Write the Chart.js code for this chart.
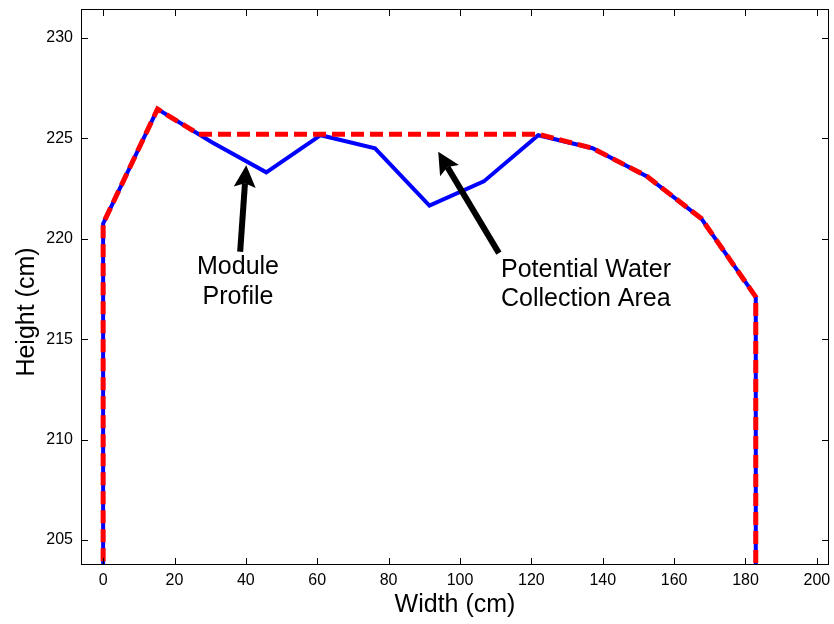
<!DOCTYPE html>
<html>
<head>
  <title>Module Profile</title>
  <script src="https://cdn.jsdelivr.net/npm/chart.js"></script>
  <style>
    body {
      margin: 0;
      background: #fff;
    }
  </style>
</head>
<body>

  <canvas id="profileChart" width="834" height="624"></canvas>

  <script>
    // positions along the module (cm), one every 6 inches
    const widths = [0, 15.24, 30.48, 45.72, 60.96, 76.2, 91.44, 106.68, 121.92, 137.16, 152.4, 167.64, 182.88];
    const moduleHeights = [220.75, 226.45, 224.8, 223.3, 225.15, 224.5, 221.65, 222.85, 225.15, 224.5, 223.1, 221.0, 217.1];

    // water line: same profile, but the dip between 27 and 122 cm is filled level
    const waterWidths = [0, 0, 15.24, 26.8, 121.92, 137.16, 152.4, 167.64, 182.88, 182.88];
    const waterHeights = [203, 220.75, 226.45, 225.2, 225.2, 224.5, 223.1, 221.0, 217.1, 203];

    const xTicks = [0, 20, 40, 60, 80, 100, 120, 140, 160, 180, 200];
    const yTicks = [205, 210, 215, 220, 225, 230];

    const moduleData = [{ x: 0, y: 203 }]
      .concat(widths.map((w, i) => ({ x: w, y: moduleHeights[i] })))
      .concat([{ x: 182.88, y: 203 }]);
    const waterData = waterWidths.map((w, i) => ({ x: w, y: waterHeights[i] }));

    const tickFont = { family: "'Liberation Sans', Arial, sans-serif", size: 16, lineHeight: 1.2 };
    const labelFont = "25px 'Liberation Sans', Arial, sans-serif";

    // MATLAB style box, inward ticks, arrows and notes
    const decorations = {
      id: 'decorations',
      afterDatasetsDraw(chart) {
        const { ctx, chartArea: a, scales: { x, y } } = chart;
        ctx.save();
        ctx.strokeStyle = '#000';
        ctx.lineWidth = 1;
        ctx.strokeRect(a.left + 0.5, a.top + 0.5, a.right - a.left - 1, a.bottom - a.top - 1);

        ctx.beginPath();
        xTicks.forEach(v => {
          const px = Math.round(x.getPixelForValue(v)) + 0.5;
          ctx.moveTo(px, a.bottom); ctx.lineTo(px, a.bottom - 7);
          ctx.moveTo(px, a.top); ctx.lineTo(px, a.top + 7);
        });
        yTicks.forEach(v => {
          const py = Math.round(y.getPixelForValue(v)) + 0.5;
          ctx.moveTo(a.left, py); ctx.lineTo(a.left + 7, py);
          ctx.moveTo(a.right, py); ctx.lineTo(a.right - 7, py);
        });
        ctx.stroke();

        // arrows: [tail x, tail y, tip x, tip y] in data units
        const arrows = [
          [38.4, 219.35, 40.1, 223.65],
          [110.9, 219.28, 93.9, 224.33]
        ];
        ctx.fillStyle = '#000';
        arrows.forEach(([x0, y0, x1, y1]) => {
          const sx = x.getPixelForValue(x0), sy = y.getPixelForValue(y0);
          const ex = x.getPixelForValue(x1), ey = y.getPixelForValue(y1);
          const ang = Math.atan2(ey - sy, ex - sx);
          const cos = Math.cos(ang), sin = Math.sin(ang);
          const len = 22, half = 11;
          const bx = ex - len * cos, by = ey - len * sin;
          ctx.lineWidth = 6;
          ctx.beginPath();
          ctx.moveTo(sx, sy);
          ctx.lineTo(bx + 4 * cos, by + 4 * sin);
          ctx.stroke();
          ctx.beginPath();
          ctx.moveTo(ex, ey);
          ctx.lineTo(bx + half * sin, by - half * cos);
          ctx.lineTo(ex - 18 * cos, ey - 18 * sin);
          ctx.lineTo(bx - half * sin, by + half * cos);
          ctx.closePath();
          ctx.fill();
        });

        ctx.font = labelFont;
        ctx.textBaseline = 'alphabetic';
        ctx.textAlign = 'center';
        ctx.fillText('Module', x.getPixelForValue(37.8), y.getPixelForValue(218.24));
        ctx.fillText('Profile', x.getPixelForValue(37.8), y.getPixelForValue(216.74));
        ctx.textAlign = 'left';
        ctx.fillText('Potential Water', x.getPixelForValue(111.5), y.getPixelForValue(218.09));
        ctx.fillText('Collection Area', x.getPixelForValue(111.5), y.getPixelForValue(216.64));

        // axis titles
        ctx.textAlign = 'center';
        ctx.textBaseline = 'middle';
        ctx.fillText('Width (cm)', (a.left + a.right) / 2, 605);
        ctx.translate(27, 312);
        ctx.rotate(-Math.PI / 2);
        ctx.fillText('Height (cm)', 0, 0);
        ctx.restore();
      }
    };

    const noPad = s => {
      s.paddingTop = 0; s.paddingBottom = 0;
      s.paddingLeft = 0; s.paddingRight = 0;
    };

    const ctx = document.getElementById('profileChart').getContext('2d');
    new Chart(ctx, {
      type: 'line',
      data: {
        datasets: [
          {
            label: 'Potential Water Collection Area',
            data: waterData,
            borderColor: '#ff0000',
            borderWidth: 5,
            borderDash: [13, 6],
            pointRadius: 0,
            tension: 0,
            clip: 0,
            order: 1
          },
          {
            label: 'Module Profile',
            data: moduleData,
            borderColor: '#0000ff',
            borderWidth: 4,
            pointRadius: 0,
            tension: 0,
            clip: 0,
            order: 2
          }
        ]
      },
      options: {
        responsive: false,
        animation: false,
        layout: { padding: { top: 9, right: 5, left: 0, bottom: 0 } },
        plugins: {
          legend: { display: false },
          tooltip: { enabled: false }
        },
        scales: {
          x: {
            type: 'linear',
            min: -6.2,
            max: 203.4,
            afterFit: s => { noPad(s); s.height = 59; },
            afterBuildTicks: s => { s.ticks = xTicks.map(v => ({ value: v })); },
            grid: { display: false, drawTicks: false },
            border: { display: false },
            ticks: { padding: 6, color: '#000', font: tickFont, maxRotation: 0, autoSkip: false }
          },
          y: {
            type: 'linear',
            min: 203.76,
            max: 231.43,
            afterFit: s => { noPad(s); s.width = 81; },
            afterBuildTicks: s => { s.ticks = yTicks.map(v => ({ value: v })); },
            grid: { display: false, drawTicks: false },
            border: { display: false },
            ticks: { padding: 8, color: '#000', font: tickFont, autoSkip: false }
          }
        }
      },
      plugins: [decorations]
    });
  </script>

</body>
</html>
